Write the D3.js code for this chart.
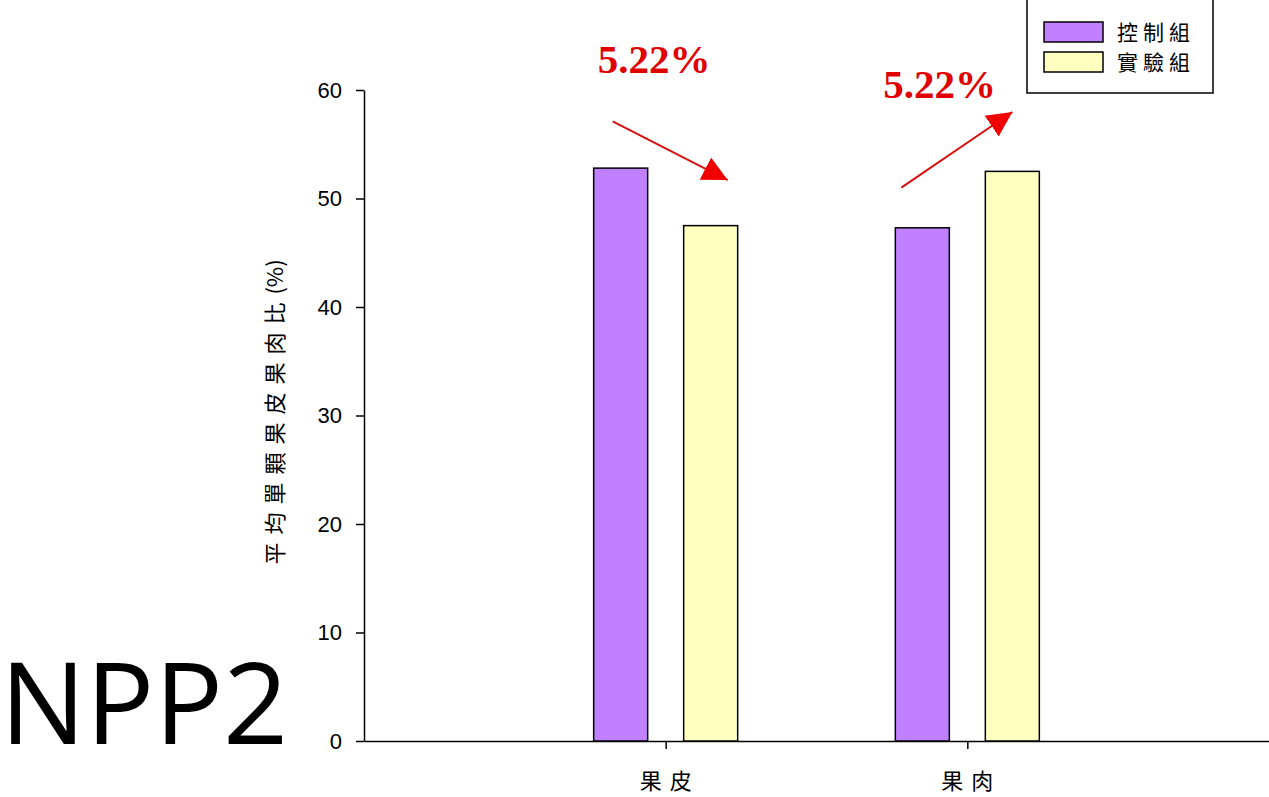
<!DOCTYPE html>
<html>
<head>
  <meta charset="utf-8">
  <title>NPP2 果皮果肉比</title>
  <script src="https://cdn.jsdelivr.net/npm/d3@7"></script>
  <style>
    body { margin: 0; background: #fff; }
    svg { display: block; }
  </style>
</head>
<body>
<script>
  // data
  const categories = ["果皮", "果肉"];
  const groups = ["控制組", "實驗組"];
  const controlValues = [52.8, 47.3];
  const treatValues = [47.5, 52.5];
  const yTicks = [0, 10, 20, 30, 40, 50, 60];
  const changeLabels = ["5.22%", "5.22%"];
  const colors = ["#c080ff", "#ffffc0"];

  const W = 1269, H = 797;
  const plotLeft = 364, plotRight = 1269, plotTop = 90, plotBottom = 741;

  const svg = d3.select("body").append("svg")
    .attr("width", W)
    .attr("height", H);

  // scales
  const x = d3.scalePoint().domain(categories).range([plotLeft, plotRight]).padding(1);
  const y = d3.scaleLinear().domain([0, 60]).range([plotBottom, plotTop]);
  const offset = d3.scaleOrdinal().domain(groups).range([-45, 45]);
  const barW = 54;

  // y-axis
  const yAxis = svg.append("g")
    .attr("transform", "translate(" + plotLeft + ",0)")
    .call(d3.axisLeft(y).tickValues(yTicks).tickSize(8).tickSizeOuter(0).tickPadding(14));
  yAxis.selectAll("path, line").attr("stroke", "#000").attr("stroke-width", 1.5);
  yAxis.selectAll("text")
    .attr("font-family", "Liberation Sans, Arial, sans-serif")
    .attr("font-size", 22)
    .attr("fill", "#000");

  // x-axis
  const xAxis = svg.append("g")
    .attr("transform", "translate(0," + plotBottom + ")")
    .call(d3.axisBottom(x).tickSize(8).tickSizeOuter(0).tickFormat(""));
  xAxis.selectAll("path, line").attr("stroke", "#000").attr("stroke-width", 1.5);

  svg.selectAll(".cat")
    .data(categories)
    .enter()
    .append("text")
    .attr("x", d => x(d) + 4)
    .attr("y", 789)
    .attr("text-anchor", "middle")
    .attr("font-family", "Noto Sans CJK TC, sans-serif")
    .attr("font-size", 22)
    .attr("letter-spacing", 8)
    .text(d => d);

  // bars
  const rows = [];
  categories.forEach((c, i) => {
    rows.push({ cat: c, group: groups[0], value: controlValues[i] });
    rows.push({ cat: c, group: groups[1], value: treatValues[i] });
  });

  svg.selectAll("rect.bar")
    .data(rows)
    .enter()
    .append("rect")
    .attr("class", "bar")
    .attr("x", d => x(d.cat) + offset(d.group) - barW / 2)
    .attr("y", d => y(d.value))
    .attr("width", barW)
    .attr("height", d => y(0) - y(d.value))
    .attr("fill", d => colors[groups.indexOf(d.group)])
    .attr("stroke", "#000")
    .attr("stroke-width", 1.5);

  // y label
  const yl = svg.append("text")
    .attr("transform", "translate(283,412) rotate(-90)")
    .attr("text-anchor", "middle")
    .attr("font-family", "Noto Sans CJK TC, sans-serif")
    .attr("font-size", 22);
  yl.append("tspan").attr("letter-spacing", 8).text("平均單顆果皮果肉比");
  yl.append("tspan").attr("letter-spacing", 0).text("(%)");

  // legend
  const lg = svg.append("g");
  lg.append("rect")
    .attr("x", 1027).attr("y", -2)
    .attr("width", 186).attr("height", 95)
    .attr("fill", "#fff").attr("stroke", "#000").attr("stroke-width", 1.5);
  groups.forEach((g, i) => {
    lg.append("rect")
      .attr("x", 1044).attr("y", 22 + i * 30)
      .attr("width", 59).attr("height", 20)
      .attr("fill", colors[i]).attr("stroke", "#000").attr("stroke-width", 1.5);
    lg.append("text")
      .attr("x", 1117).attr("y", 40 + i * 30)
      .attr("font-family", "Noto Sans CJK TC, sans-serif")
      .attr("font-size", 21)
      .attr("letter-spacing", 5)
      .text(g);
  });

  // change annotations
  const defs = svg.append("defs");
  defs.append("marker")
    .attr("id", "head")
    .attr("viewBox", "0 0 10 10")
    .attr("refX", 10).attr("refY", 5)
    .attr("markerWidth", 25).attr("markerHeight", 26)
    .attr("markerUnits", "userSpaceOnUse")
    .attr("orient", "auto")
    .append("path")
    .attr("d", "M0,0 L10,5 L0,10 Z")
    .attr("fill", "#f00000");

  const ann = [
    { cat: categories[0], tx: -68, ty: 61.55, x1: -53, y1: 57.1, x2: 62, y2: 51.7 },
    { cat: categories[1], tx: -84, ty: 59.3, x1: -66, y1: 51.0, x2: 45, y2: 57.97 }
  ];
  ann.forEach((a, i) => {
    svg.append("text")
      .attr("x", x(a.cat) + a.tx)
      .attr("y", y(a.ty))
      .attr("font-family", "Liberation Serif, Times New Roman, serif")
      .attr("font-weight", "bold")
      .attr("font-size", 41)
      .attr("fill", "#e00000")
      .text(changeLabels[i]);
    svg.append("line")
      .attr("x1", x(a.cat) + a.x1).attr("y1", y(a.y1))
      .attr("x2", x(a.cat) + a.x2).attr("y2", y(a.y2))
      .attr("stroke", "#d81010")
      .attr("stroke-width", 2)
      .attr("marker-end", "url(#head)");
  });

  // figure tag
  svg.append("text")
    .attr("x", 0)
    .attr("y", 744)
    .attr("font-family", "Open Sans, sans-serif")
    .attr("font-size", 114)
    .text("NPP2");
</script>
</body>
</html>
